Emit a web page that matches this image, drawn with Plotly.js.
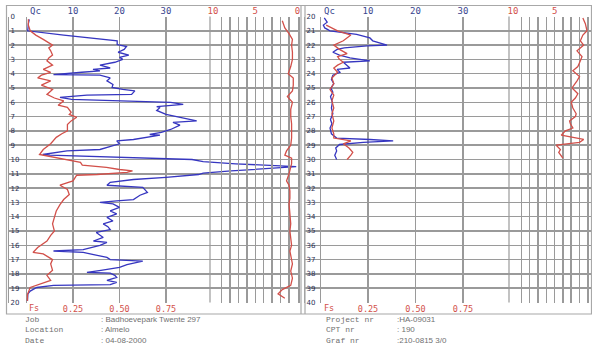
<!DOCTYPE html>
<html><head><meta charset="utf-8">
<script src="https://cdn.plot.ly/plotly-3.0.1.min.js"></script>
<style>html,body{margin:0;padding:0;background:#fff}#c{width:592px;height:344px}</style>
</head><body><div id="c"></div>
<script>
// ---- Left panel (0-20 m) ----
const leftQcDepth = [0.2,0.5,0.9,1.0,1.3,1.5,1.7,1.96,2.1,2.3,2.5,2.7,2.85,3.0,3.2,3.4,3.6,3.7,3.8,3.9,4.06,4.1,4.3,4.5,4.75,4.96,5.1,5.2,5.45,5.5,5.66,5.8,5.95,6.0,6.15,6.3,6.36,6.57,6.85,7.05,7.2,7.3,7.4,7.6,7.9,8.1,8.25,8.3,8.6,8.7,8.9,9.1,9.3,9.4,9.65,9.7,9.85,10.0,10.15,10.3,10.5,10.65,10.8,10.95,11.05,11.25,11.4,11.6,11.8,11.95,12.3,12.5,12.8,12.9,13.0,13.1,13.35,13.6,13.8,14.05,14.3,14.5,14.7,14.9,15.1,15.45,15.7,15.8,16.0,16.3,16.4,16.5,16.85,17.0,17.1,17.35,17.55,17.75,17.9,17.95,18.1,18.25,18.45,18.6,18.75,18.8,18.95,19.2,19.4,19.9];
const leftQc      = [0.6,0.4,0.3,0.2,8,14,19.5,19.5,21.5,21,19.7,22,20,20.7,19,15.8,18,14.3,15.8,11.9,5.8,15.8,18,17.3,18.6,18.4,20.7,23.3,22.6,13,7.2,9.7,26,31,33.7,28,28.7,28,30,33,34.5,36.6,31.5,33,31,29,26.5,28.7,23,19.4,20,18,15.8,8.7,3.5,5,20,35.6,38,45,58,50,44,38,37,30,23,18,17.3,25,26,24.4,23,19.4,15.8,18.6,20,18,19.4,17.3,18.6,16.5,17.5,18,15,16.5,14.4,17.3,15.8,12.2,5.8,12.2,17.3,18,25,21.6,20,16,13,18,19,19.4,17.3,19.4,18,5.8,2.2,0.8,0.3,0.2];
const leftFsDepth = [0.2,0.6,1.0,1.3,1.6,2.0,2.2,2.4,2.7,2.9,3.1,3.4,3.7,3.9,4.1,4.3,4.5,4.8,5.1,5.45,5.7,5.9,6.2,6.36,6.7,6.85,7.05,7.3,7.55,8.0,8.2,8.45,8.9,9.3,9.65,9.9,10.2,10.4,10.55,10.7,10.8,10.9,11.05,11.1,11.5,11.8,12.1,12.45,12.8,13.15,13.6,14.05,14.5,15.0,15.3,15.7,16.15,16.5,16.6,17.0,17.3,17.75,18.1,18.45,18.75,18.95,19.45,19.9];
const leftFs      = [0.01,0.01,0.02,0.05,0.09,0.14,0.12,0.13,0.14,0.12,0.11,0.14,0.09,0.13,0.08,0.06,0.13,0.08,0.14,0.11,0.15,0.2,0.17,0.22,0.24,0.23,0.27,0.24,0.22,0.22,0.19,0.16,0.13,0.09,0.07,0.18,0.29,0.3,0.43,0.5,0.57,0.54,0.38,0.27,0.25,0.18,0.22,0.23,0.2,0.18,0.16,0.15,0.14,0.15,0.13,0.11,0.06,0.035,0.09,0.14,0.13,0.14,0.11,0.13,0.07,0.02,0.005,0.005];
const leftRfDepth = [0.3,0.8,1.2,1.6,2.0,2.5,3.0,3.5,4.0,4.3,4.8,5.2,5.6,6.0,6.5,7.0,7.5,8.0,8.5,9.0,9.4,9.7,9.9,10.3,10.6,11.0,11.5,11.8,12.2,12.7,13.1,13.6,14.0,14.5,15.0,15.5,16.0,16.4,16.8,17.3,17.8,18.3,18.8,19.1,19.4,19.7];
const leftRf      = [1.8,1.5,1.0,0.6,0.7,0.6,0.6,0.8,1.1,0.5,0.5,0.6,1.2,0.6,0.8,0.8,0.7,0.7,0.7,0.8,1.3,1.5,0.7,0.7,0.8,1.0,1.3,1.0,0.9,0.9,1.0,0.9,0.9,0.8,0.9,0.8,0.7,0.9,0.8,0.6,0.8,0.6,0.8,1.8,2.3,1.5];
// ---- Right panel (20-40 m) ----
const rightQcDepth = [20.1,20.4,20.6,20.8,21.0,21.1,21.25,21.5,21.7,22.0,22.05,22.2,22.3,22.5,22.7,22.9,23.1,23.2,23.4,23.6,23.7,23.9,24.1,24.4,24.7,25.0,25.3,25.6,26.0,26.4,26.8,27.2,27.5,27.8,28.2,28.5,28.6,28.7,28.8,28.95,29.2,29.4,29.7,30.0];
const rightQc      = [0.8,1.4,0.6,0.9,2,4.8,7.6,10.4,11,14,9.8,5,3.5,2.6,4,6.2,10.4,4.8,5.5,6.2,3.5,4.1,2.6,2.3,2.8,2.2,2.6,2.1,2.5,2.3,2.6,2.1,2.4,2.0,2.3,3.4,10.4,15.3,9,4,3.2,3.4,3.0,3.4];
const rightFsDepth = [20.6,21.0,21.3,21.5,21.7,22.0,22.3,22.6,22.8,23.0,23.2,23.4,23.6,23.9,24.3,24.7,25.1,25.5,25.9,26.4,26.8,27.3,27.8,28.2,28.5,28.7,28.9,29.2,29.5,29.7,30.0];
const rightFs      = [0.03,0.09,0.16,0.14,0.12,0.07,0.1,0.14,0.09,0.1,0.12,0.09,0.07,0.09,0.06,0.07,0.05,0.07,0.06,0.07,0.06,0.07,0.06,0.07,0.07,0.16,0.12,0.15,0.17,0.16,0.14];
const rightRfDepth = [20.1,20.5,21.0,21.3,21.7,22.0,22.4,22.8,23.1,23.5,23.8,24.2,24.5,24.8,25.0,25.4,25.7,26.0,26.4,26.8,27.0,27.3,27.5,27.8,28.0,28.3,28.6,28.8,29.0,29.3,29.5,29.9];
const rightRf      = [1.6,1.3,1.1,1.6,1.9,1.5,2.3,1.7,1.9,2.2,2.8,2.0,2.3,2.6,2.9,2.2,2.5,3.0,2.8,2.4,2.5,3.2,3.1,2.8,3.7,4.2,1.5,2.0,4.8,4.3,4.5,4.0];
// ---- tick labels ----
const qcTicks = [0,10,20,30];
const qcTickText = ['','10','20','30'];
const fsTicks = [0.25,0.5,0.75];
const fsTickText = ['0.25','0.50','0.75'];
const rfTicks = [0,1,2,3,4,5,6,7,8,9,10];
const rfTickText = ['0','','','','','5','','','','','10'];
const leftDepthTicks = Array.from({length:21},(_, i)=>i);
const rightDepthTicks = Array.from({length:21},(_, i)=>i+20);
const infoLeftLabels = ['Job','Location','Date'];
const infoLeftValues = [': Badhoevepark Twente 297',': Almelo',': 04-08-2000'];
const infoRightLabels = ['Project nr','CPT nr','Graf nr'];
const infoRightValues = [':HA-09031',': 190',':210-0815 3/0'];

const W=592,H=344,OFF=-2.5;
const px=x=>x/W, py=y=>1-(y+OFF)/H;
const G='#9a9a9a', BLUE='#3636c0', RED='#d2504a', NAVY='#3a4690';
const tickMono={family:'DejaVu Sans Mono',size:9,color:NAVY};
const redMono={family:'DejaVu Sans Mono',size:9,color:RED};
const redMonoS={family:'DejaVu Sans Mono',size:8.5,color:RED};
const depthFont={family:'DejaVu Sans',size:7,color:'#2a2f55'};
const yDom=[py(305),py(19)];
const lq0=26.5, lppu=4.65, rq0=320.5, rppu=4.75;

const layout={
  width:W,height:H,margin:{l:0,r:0,t:0,b:0},
  paper_bgcolor:'#fff',plot_bgcolor:'rgba(0,0,0,0)',showlegend:false,hovermode:false,
  xaxis:{domain:[px(9),px(298)],range:[(9-lq0)/lppu,(298-lq0)/lppu],side:'top',anchor:'y',
    tickmode:'array',tickvals:qcTicks,ticktext:qcTickText,showgrid:true,gridcolor:G,gridwidth:1.5,
    zeroline:false,ticks:'',tickfont:tickMono,showline:false},
  xaxis2:{overlaying:'x',side:'bottom',anchor:'y',range:[(9-lq0)/lppu*0.025,(298-lq0)/lppu*0.025],
    tickmode:'array',tickvals:fsTicks,ticktext:fsTickText,showgrid:false,zeroline:false,ticks:'',tickfont:redMonoS,showline:false},
  xaxis3:{domain:[px(213),px(297.5)],anchor:'y',side:'top',range:[10,0],tickmode:'array',tickvals:rfTicks,ticktext:rfTickText,
    showgrid:true,gridcolor:G,gridwidth:1.5,zeroline:false,ticks:'',tickfont:redMono,showline:false},
  yaxis:{domain:yDom,range:[20,0],anchor:'x',tickmode:'array',tickvals:leftDepthTicks,showgrid:true,gridcolor:G,gridwidth:1.5,
    ticklabelposition:'inside',ticklabeloverflow:'allow',ticks:'',tickfont:depthFont,showline:true,linecolor:G,linewidth:1.5,mirror:true,zeroline:false},
  xaxis4:{domain:[px(305),1],range:[(305-rq0)/rppu,(592-rq0)/rppu],side:'top',anchor:'y2',
    tickmode:'array',tickvals:qcTicks,ticktext:qcTickText,showgrid:true,gridcolor:G,gridwidth:1.5,
    zeroline:false,ticks:'',tickfont:tickMono,showline:false},
  xaxis5:{overlaying:'x4',side:'bottom',anchor:'y2',range:[(305-rq0)/rppu*0.025,(592-rq0)/rppu*0.025],
    tickmode:'array',tickvals:fsTicks,ticktext:fsTickText,showgrid:false,zeroline:false,ticks:'',tickfont:redMonoS,showline:false},
  xaxis6:{domain:[px(513),1],anchor:'y2',side:'top',range:[10,0.5],tickmode:'array',tickvals:rfTicks,ticktext:rfTickText,
    showgrid:true,gridcolor:G,gridwidth:1.5,zeroline:false,ticks:'',tickfont:redMono,showline:false},
  yaxis2:{domain:yDom,range:[40,20],anchor:'x4',tickmode:'array',tickvals:rightDepthTicks,showgrid:true,gridcolor:G,gridwidth:1.5,
    ticklabelposition:'inside',ticklabeloverflow:'allow',ticks:'',tickfont:depthFont,showline:true,linecolor:G,linewidth:1.5,mirror:false,zeroline:false},
  shapes:[
    {type:'rect',xref:'paper',yref:'paper',x0:px(6.5),x1:px(591.5),y0:py(316.5),y1:py(8),line:{color:'#a8a8a8',width:1.2}},
    {type:'line',xref:'paper',yref:'paper',x0:px(301),x1:px(301),y0:py(316.5),y1:py(8),line:{color:'#a8a8a8',width:1.2}},
    {type:'line',xref:'paper',yref:'paper',x0:px(305),x1:px(305),y0:py(316.5),y1:py(8),line:{color:'#a8a8a8',width:1.2}},
    {type:'line',xref:'paper',yref:'paper',x0:px(210),x1:px(210),y0:py(305),y1:py(19),line:{color:G,width:1.2}},
    {type:'line',xref:'paper',yref:'paper',x0:px(509),x1:px(509),y0:py(305),y1:py(19),line:{color:G,width:1.2}}
  ],
  annotations:[]
};
const ann=(x,y,text,font,xa)=>layout.annotations.push({xref:'paper',yref:'paper',x:px(x),y:py(y),text:text,showarrow:false,xanchor:xa||'left',yanchor:'middle',align:'left',borderpad:0,font:font});
ann(29,14,'Qc',tickMono); ann(323,14,'Qc',tickMono);
ann(28,310.5,'Fs',redMonoS); ann(323,310.5,'Fs',redMonoS);
const lblFont={family:'Liberation Mono',size:8,color:'#707070'};
const valFont={family:'Liberation Sans',size:8,color:'#707070'};
const yMid=332.5;
ann(24,yMid,infoLeftLabels.join('<br>'),lblFont);
ann(100,yMid,infoLeftValues.join('<br>'),valFont);
ann(325,yMid,infoRightLabels.join('<br>'),lblFont);
ann(396,yMid,infoRightValues.join('<br>'),valFont);

const ln=(c)=>({color:c,width:1.3});
const data=[
  {type:'scatter',mode:'lines',x:leftQc,y:leftQcDepth,xaxis:'x',yaxis:'y',line:ln(BLUE)},
  {type:'scatter',mode:'lines',x:leftFs,y:leftFsDepth,xaxis:'x2',yaxis:'y',line:ln(RED)},
  {type:'scatter',mode:'lines',x:leftRf,y:leftRfDepth,xaxis:'x3',yaxis:'y',line:ln(RED)},
  {type:'scatter',mode:'lines',x:rightQc,y:rightQcDepth,xaxis:'x4',yaxis:'y2',line:ln(BLUE)},
  {type:'scatter',mode:'lines',x:rightFs,y:rightFsDepth,xaxis:'x5',yaxis:'y2',line:ln(RED)},
  {type:'scatter',mode:'lines',x:rightRf,y:rightRfDepth,xaxis:'x6',yaxis:'y2',line:ln(RED)}
];
Plotly.newPlot('c',data,layout,{staticPlot:true,displayModeBar:false});
</script></body></html>
